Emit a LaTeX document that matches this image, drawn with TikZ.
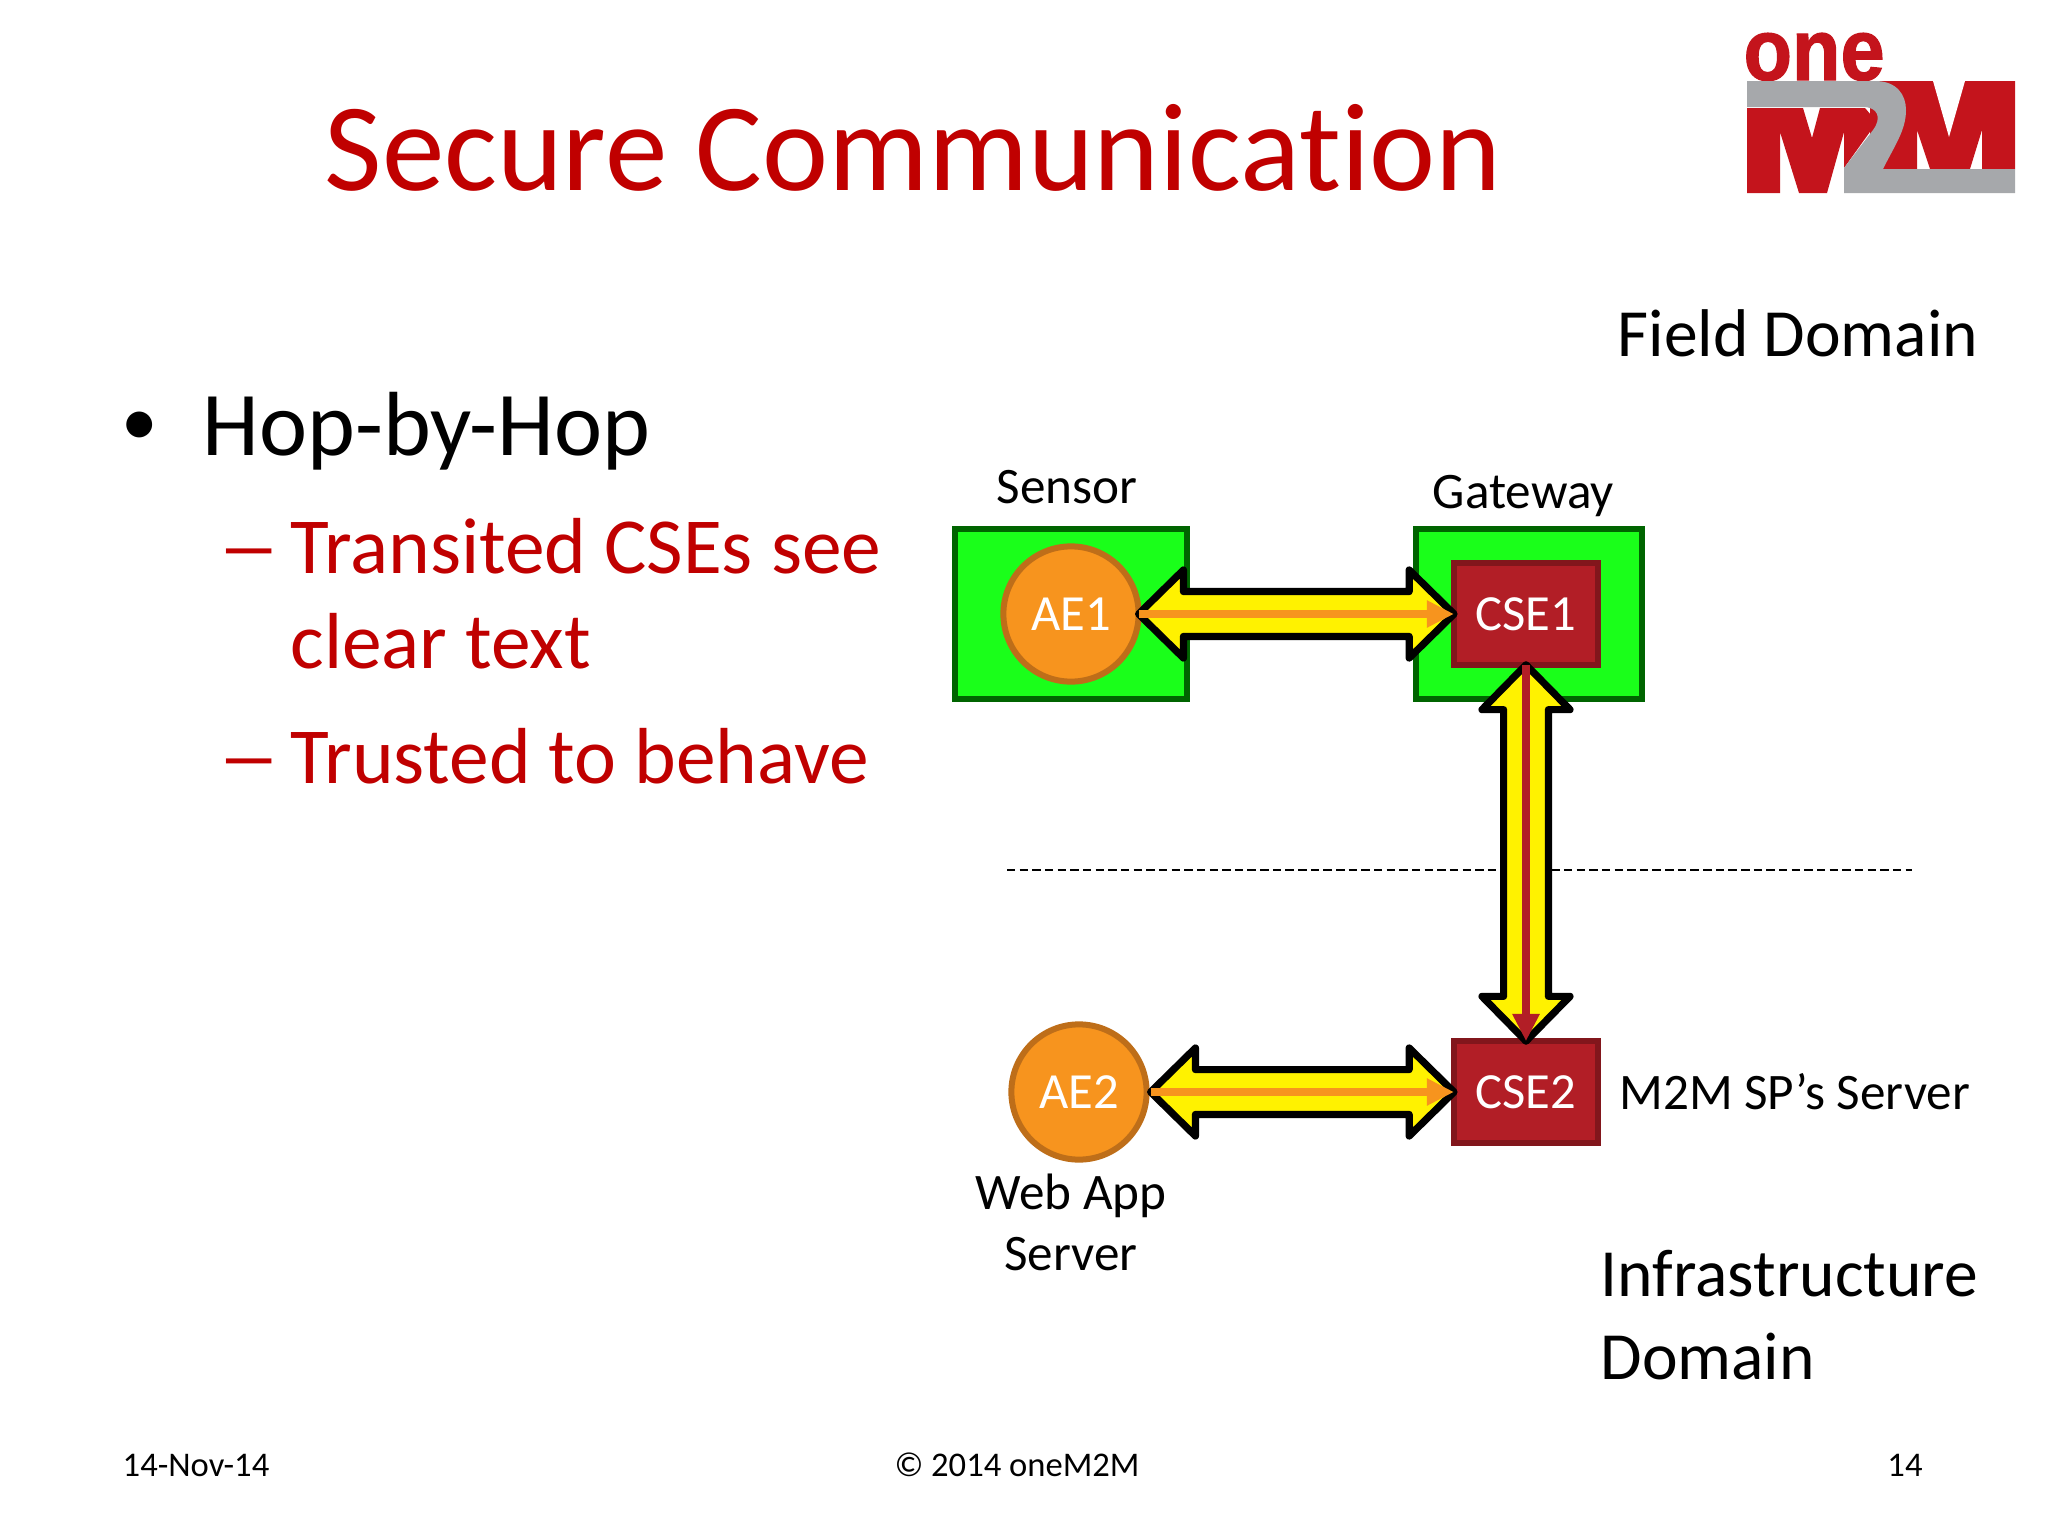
\documentclass[tikz,border=0pt]{standalone}
\usepackage{fontspec}
\setmainfont[Ligatures={NoCommon,NoContextual}]{Carlito}
\newfontfamily\logofont[BoldFeatures={FakeBold=1.5}]{Liberation Sans}
\usetikzlibrary{calc}
\usetikzlibrary{positioning}
\usetikzlibrary{arrows.meta}
\definecolor{titlered}{RGB}{192,0,0}
\definecolor{logored}{RGB}{196,20,28}
\definecolor{logogray}{RGB}{166,168,171}
\definecolor{boxgreen}{RGB}{26,255,26}
\definecolor{boxedge}{RGB}{0,100,0}
\definecolor{aeorange}{RGB}{247,148,30}
\definecolor{aeedge}{RGB}{190,110,25}
\definecolor{csered}{RGB}{178,30,38}
\definecolor{cseedge}{RGB}{130,22,28}
\tikzset {
  device/.style = {
    draw = boxedge,
    fill = boxgreen,
    line width = .07cm,
    rectangle,
    inner sep = 0,
    outer sep = 0,
    minimum height = 2.13cm
  },
  % application entity
  ae/.style = {
    draw = aeedge,
    fill = aeorange,
    line width = .075cm,
    circle,
    inner sep = 0,
    outer sep = 0,
    minimum size = 1.69cm,
    text = white,
    font = \fontsize{18}{22}\selectfont
  },
  % common services entity
  cse/.style = {
    draw = cseedge,
    fill = csered,
    line width = .07cm,
    rectangle,
    inner sep = 0,
    outer sep = 0,
    minimum width = 1.8cm,
    minimum height = 1.27cm,
    text = white,
    font = \fontsize{18}{22}\selectfont
  },
  hop/.style = {
    draw = black,
    fill = yellow,
    line width = .09cm,
    line join = round
  },
  hop line/.style = {
    draw = #1,
    fill = #1,
    line width = .1cm,
    -{Triangle[length=.34cm,width=.32cm]}
  },
  caption/.style = {
    font = \fontsize{18.2}{21.7}\selectfont,
    inner sep = 0
  },
  domain text/.style = {
    font = \fontsize{24}{29.3}\selectfont,
    inner sep = 0,
    align = left,
    anchor = north west
  },
  bullet/.style = {
    inner sep = 0,
    anchor = base west
  },
  redline/.style = {
    bullet,
    text = titlered,
    font = \fontsize{28.25}{34}\selectfont
  },
  footer/.style = {
    font = \fontsize{12.3}{15}\selectfont,
    inner sep = 0,
    anchor = base
  }
}
% block arrow with a tip on both ends, then its middle line
\newcommand{\hoparrow}[3]{
  \coordinate (hop-a) at ($(#1)!.56cm!(#2)$);
  \coordinate (hop-b) at ($(#2)!.56cm!(#1)$);
  \draw[hop] (#1)
    -- ($(hop-a)!.55cm!90:(#2)$) -- ($(hop-a)!.28cm!90:(#2)$)
    -- ($(hop-b)!.28cm!-90:(#1)$) -- ($(hop-b)!.55cm!-90:(#1)$)
    -- (#2)
    -- ($(hop-b)!.55cm!90:(#1)$) -- ($(hop-b)!.28cm!90:(#1)$)
    -- ($(hop-a)!.28cm!-90:(#2)$) -- ($(hop-a)!.55cm!-90:(#2)$)
    -- cycle;
  \draw[hop line = #3] (#1) -- (#2);
}
\begin{document}
\begin{tikzpicture}[x=.0125cm, y=-.0125cm]
    \useasboundingbox (0,0) rectangle (2048,1536);

    \node[text = titlered, font = \fontsize{44.5}{50}\selectfont, inner sep = 0, anchor = base west] (title) at (324,190) {Secure Communication};

    % logo
    \node[text = logored, font = \logofont\bfseries\fontsize{31}{31}\selectfont, inner sep = 0, anchor = base west] (logo-one) at (1743,80) {\scalebox{.91}[1]{one}};
    \fill[logored] (1747,108) -- (1803,108) -- (1812,138) -- (1820,108) -- (1865,108) -- (1877,122) -- (1844,168) -- (1844,132) -- (1827,193) -- (1799,193) -- (1780,132) -- (1780,193) -- (1747,193) -- cycle;
    \fill[logored] (1870,81) -- (2015,81) -- (2015,169) -- (1982,169) -- (1982,130) -- (1970,169) -- (1930,169) -- (1917,130) -- (1917,169) -- (1870,169) -- cycle;
    \fill[white] (1933,81) -- (1965,81) -- (1949,137) -- cycle;
    \fill[logogray] (1747,81) -- (1875,81) .. controls (1897,81) and (1906,95) .. (1906,110) .. controls (1906,130) and (1895,145) .. (1883,169) -- (2015,169) -- (2015,193) -- (1844,193) -- (1844,168) -- (1873,130) .. controls (1882,118) and (1878,107) .. (1863,107) -- (1747,107) -- cycle;

    % slide text
    \node[bullet, font = \fontsize{26}{30}\selectfont] (item-dot) at (121,445) {•};
    \node[bullet, font = \fontsize{32.4}{38}\selectfont] (item-hop) at (202,455) {Hop-by-Hop};
    \node[redline] (dash-one) at (217,573) {\scalebox{1.6}[1]{–}};
    \node[redline] (transited) at (290,573) {Transited CSEs see};
    \node[redline] (clear) at (290,668) {clear text};
    \node[redline] (dash-two) at (217,783) {\scalebox{1.6}[1]{–}};
    \node[redline] (trusted) at (290,783) {Trusted to behave};

    \node[domain text] (field) at (1617,309) {Field Domain};
    \node[domain text] (infra) at (1600,1250) {Infrastructure\\Domain};

    % boundary between the domains
    \coordinate (boundary-left) at (1007,870);
    \coordinate (boundary-right) at (1912,870);
    \draw[line width = .02cm, dash pattern = on 3pt off 1.5pt] (boundary-left) -- (boundary-right);

    \node[device, minimum width = 2.9cm] (sensor) at (1071,614) {};
    \node[device, minimum width = 2.83cm] (gateway) at (1529,614) {};
    \node[ae] (ae1) at (1071,614) {AE1};
    \node[cse] (cse1) at (1526,614) {CSE1};
    \node[ae] (ae2) at (1079,1092) {AE2};
    \node[cse] (cse2) at (1526,1092) {CSE2};
    \coordinate [right=.05cm of ae2] (ae2-port);

    \node[caption] (sensor-label) [above=.3cm of sensor, xshift=-.05cm] {Sensor};
    \node[caption] (gateway-label) [above=.14cm of gateway, xshift=-.07cm] {Gateway};
    \node[caption] (server-label) [right=.26cm of cse2] {M2M SP’s Server};
    \node[caption, align = center] (webapp-label) at (1071,1222) {Web App\\Server};

    \hoparrow{ae1.east}{cse1.west}{aeorange}
    \hoparrow{cse1.south}{cse2.north}{csered}
    \hoparrow{ae2-port}{cse2.west}{aeorange}

    \node[footer] (date) at (196,1476) {14-Nov-14};
    \node[footer] (copyright) at (1017,1476) {© 2014 oneM2M};
    \node[footer] (page) at (1905,1476) {14};
\end{tikzpicture}
\end{document}
